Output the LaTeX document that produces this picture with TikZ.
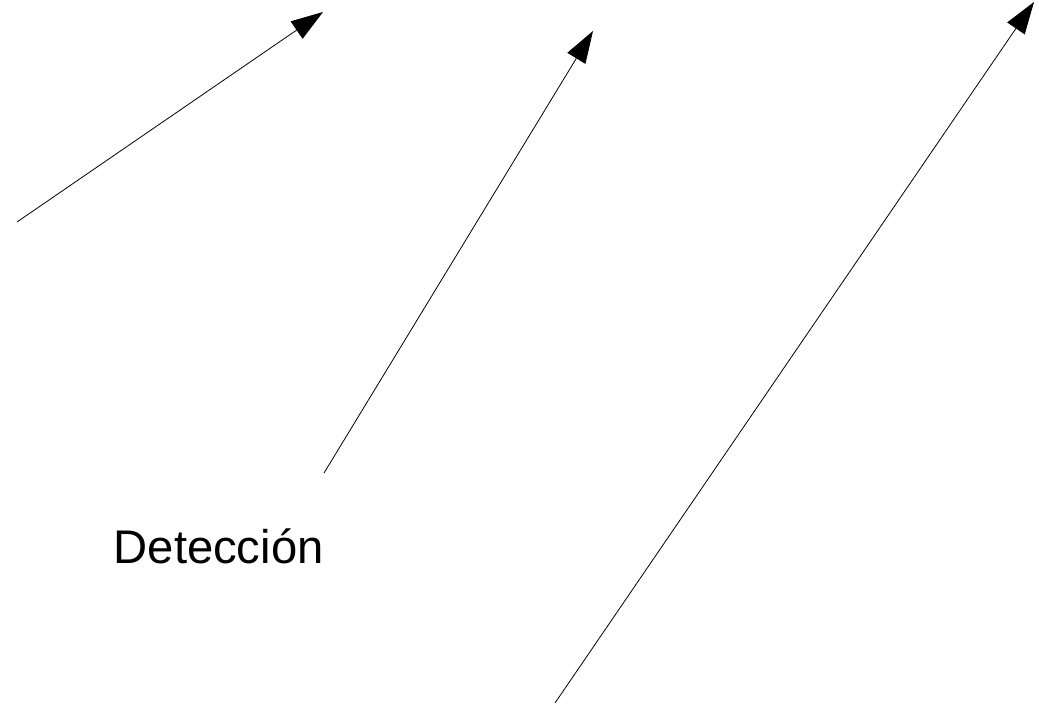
\documentclass[tikz,border=0pt]{standalone}
\usepackage{fontspec}
\setmainfont{Liberation Sans}
\usetikzlibrary{arrows.meta}
\begin{document}
\begin{tikzpicture}[x=1pt,y=-1pt,
  arr/.style={line width=0.8pt,-{Triangle[length=32pt,width=21pt]}},
  lbl/.style={font=\fontsize{47.2pt}{52pt}\selectfont,inner sep=0pt,anchor=base west}]
\useasboundingbox (0,0) rectangle (1039,708);
\coordinate (s1) at (17,222);
\coordinate (t1) at (323,12);
\coordinate (s2) at (324,473);
\coordinate (t2) at (593,31);
\coordinate (s3) at (555,703);
\coordinate (t3) at (1034,2);
\draw[arr] (s1) -- (t1);
\draw[arr] (s2) -- (t2);
\draw[arr] (s3) -- (t3);
\node[lbl] (det) at (113.5,563) {Detección};
\end{tikzpicture}
\end{document}
